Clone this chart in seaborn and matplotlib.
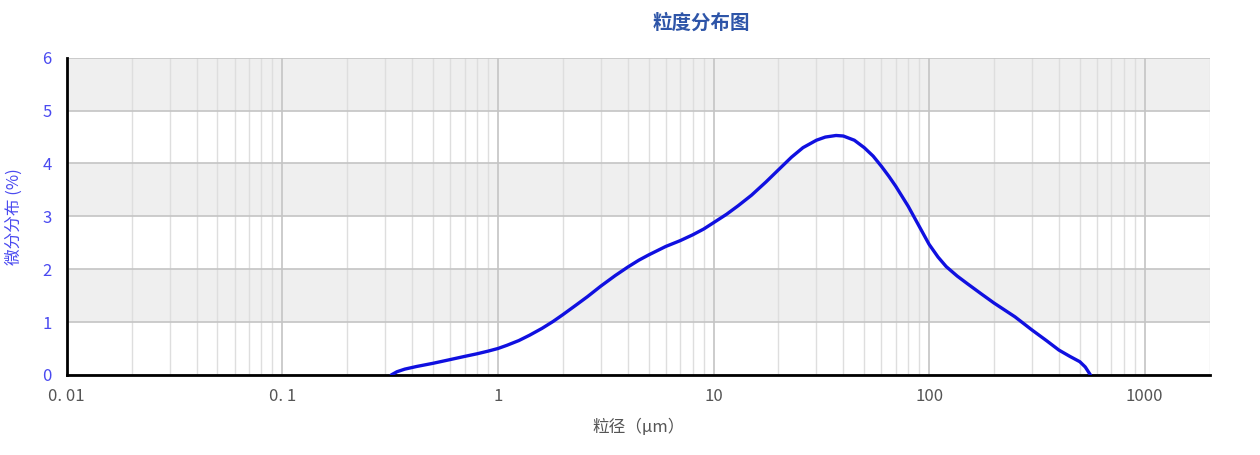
import numpy as np
import pandas as pd
import seaborn as sns
import matplotlib
matplotlib.use("Agg")
import matplotlib.pyplot as plt
from matplotlib.ticker import FixedLocator, LogLocator, NullFormatter

# particle size (um) and differential distribution (%)
size_um = [0.32, 0.34, 0.37, 0.42, 0.5, 0.6, 0.7, 0.8, 0.9, 1.0, 1.1, 1.25, 1.4,
           1.6, 1.8, 2.0, 2.3, 2.6, 3.0, 3.5, 4.0, 4.5, 5.0, 6.0, 7.0, 8.0, 9.0,
           10.0, 11.5, 13.0, 15.0, 17.5, 20.0, 23.0, 26.0, 30.0, 33.0, 37.0, 40.0,
           45.0, 50.0, 55.0, 60.0, 65.0, 70.0, 80.0, 90.0, 100.0, 110.0, 120.0,
           135.0, 150.0, 175.0, 200.0, 250.0, 300.0, 350.0, 400.0, 450.0, 500.0,
           530.0, 560.0]
diff_pct = [0.0, 0.06, 0.11, 0.16, 0.22, 0.29, 0.35, 0.4, 0.45, 0.5, 0.56, 0.65, 0.75,
            0.88, 1.01, 1.14, 1.32, 1.48, 1.68, 1.88, 2.04, 2.17, 2.27, 2.43, 2.54, 2.65, 2.76,
            2.88, 3.04, 3.2, 3.4, 3.65, 3.88, 4.12, 4.3, 4.44, 4.5, 4.53, 4.52,
            4.44, 4.3, 4.14, 3.95, 3.76, 3.57, 3.19, 2.81, 2.47, 2.23, 2.05,
            1.87, 1.73, 1.53, 1.36, 1.1, 0.85, 0.65, 0.47, 0.35, 0.25,
            0.15, 0.0]

x_ticks = [0.01, 0.1, 1, 10, 100, 1000]
x_tick_labels = ["0. 01", "0. 1", "1", "10", "100", "1000"]
y_ticks = [0, 1, 2, 3, 4, 5, 6]

df = pd.DataFrame({"size": size_um, "pct": diff_pct})

sns.set_style("white")
plt.rcParams["font.family"] = ["Noto Sans CJK SC", "DejaVu Sans"]

fig = plt.figure(figsize=(12.6, 4.55), dpi=100)
ax = fig.add_axes([0.053, 0.176, 0.907, 0.697])

# alternating grey bands
for lo in (1, 3, 5):
    ax.axhspan(lo, lo + 1, color="#efefef", zorder=0, lw=0)

sns.lineplot(data=df, x="size", y="pct", ax=ax, color="#1010e0", lw=2.4, zorder=3)

ax.set_xscale("log")
ax.set_xlim(0.01, 2000)
ax.set_ylim(0, 6)

ax.xaxis.set_major_locator(FixedLocator(x_ticks))
ax.set_xticklabels(x_tick_labels)
ax.xaxis.set_minor_locator(LogLocator(base=10, subs=np.arange(2, 10)))
ax.xaxis.set_minor_formatter(NullFormatter())
ax.set_yticks(y_ticks)

ax.grid(which="major", axis="both", color="#c4c4c4", lw=1.2, zorder=1)
ax.grid(which="minor", axis="x", color="#dedede", lw=1.0, zorder=1)
ax.set_axisbelow(True)

for s in ("top", "right"):
    ax.spines[s].set_visible(False)
for s in ("left", "bottom"):
    ax.spines[s].set_color("black")
    ax.spines[s].set_linewidth(2)

ax.tick_params(axis="y", which="major", direction="out", length=7, width=2,
               color="black", labelcolor="#4a4af0", labelsize=12, pad=4)
ax.tick_params(axis="x", which="major", direction="inout", length=7, width=1.5,
               color="black", labelcolor="#555555", labelsize=12, pad=6)
ax.tick_params(axis="x", which="minor", direction="in", length=3, width=1.2,
               color="black")

ax.set_xlabel("粒径（μm）", color="#555555", fontsize=12, labelpad=10)
ax.set_ylabel("微分分布 (%)", color="#4a4af0", fontsize=12, labelpad=14)
fig.text(0.557, 0.95, "粒度分布图", color="#2e55a8", fontsize=14,
         fontweight="bold", ha="center", va="center")

fig.savefig("out.png", dpi=100, facecolor="white")
